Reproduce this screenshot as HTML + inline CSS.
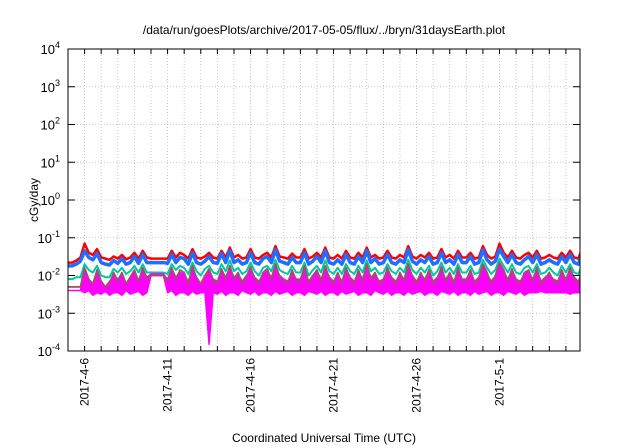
<!DOCTYPE html>
<html><head><meta charset="utf-8"><style>
body{margin:0;background:#fff}
svg{display:block;font-family:"Liberation Sans",sans-serif}
</style></head><body>
<svg id="c" width="640" height="448" xmlns="http://www.w3.org/2000/svg"></svg>
<script>
// values in units of 1e-3 cGy/day, sampled every quarter day from 2017-4-5
const dayLabels = ["2017-4-6","2017-4-11","2017-4-16","2017-4-21","2017-4-26","2017-5-1"];
const labelDays = [1,6,11,16,21,26];
const yTickExps = [-4,-3,-2,-1,0,1,2,3,4];
const redVals = [22,22,25,30, 70,40,35,50, 30,28,26,32, 28,35,27,30, 40,28,45,30, 28,28,28,28, 28,45,30,40, 35,28,50,30, 28,32,40,30, 28,45,30,55, 30,35,28,30, 50,30,28,35, 40,30,60,32, 30,28,38,30, 30,50,28,32, 40,30,55,30, 28,35,28,45, 30,28,40,30, 55,30,35,28, 30,45,30,28, 35,30,60,32, 28,35,30,40, 28,30,50,30, 35,28,45,30, 30,40,28,30, 60,35,28,32, 70,40,30,45, 30,28,35,40, 30,45,28,30, 35,30,28,40, 30,45,30,28, 55,30,28,35];
const blueVals = [18,18,20,24, 45,30,26,38, 22,20,19,25, 21,28,20,22, 32,21,36,22, 22,22,22,22, 21,36,22,30, 28,20,40,22, 20,24,32,22, 21,38,22,45, 22,26,20,22, 40,22,20,28, 32,22,48,24, 22,20,30,22, 22,40,20,24, 32,22,45,22, 20,26,20,36, 22,20,32,22, 45,22,28,20, 22,36,22,20, 26,22,48,24, 20,26,22,32, 20,22,40,22, 26,20,36,22, 22,32,20,22, 48,26,20,24, 50,32,22,36, 22,20,26,32, 22,36,20,22, 26,22,20,32, 22,36,22,20, 40,24,22,26];
const tealVals = [8,8,9,9, 20,14,12,18, 10,9,9,15, 12,16,11,13, 18,12,20,12, 12,12,12,12, 11,20,14,18, 16,11,22,13, 10,15,18,12, 11,20,13,25, 13,16,11,13, 22,13,10,16, 18,13,26,14, 12,11,18,12, 12,22,10,14, 18,12,25,13, 11,16,11,20, 13,11,18,12, 25,13,16,11, 12,20,13,11, 16,12,26,14, 11,16,12,18, 10,13,22,12, 16,11,20,12, 12,18,11,12, 26,16,11,14, 28,18,12,20, 12,11,16,18, 12,20,11,12, 16,12,10,18, 12,20,12,11, 20,13,11,14];
const brownVals = [5,5,5,5, 16,8,6,14, 7,5,6,12, 7,12,6,9, 14,7,16,8, 10,10,10,10, 7,16,8,14, 12,6,18,8, 6,10,15,7, 6,15,8,18, 8,12,6,9, 17,8,6,12, 15,8,20,9, 7,6,14,7, 7,18,6,10, 14,7,18,8, 6,12,6,16, 8,6,14,7, 20,8,12,6, 7,16,8,6, 12,7,20,9, 6,12,7,14, 6,8,17,7, 12,6,16,7, 7,14,6,8, 20,12,6,10, 22,14,7,15, 7,6,12,14, 7,16,6,8, 12,7,6,14, 7,16,8,6, 15,8,6,10];
const magLow = [4,4,4,4, 3.5,4,3,3.5, 3.2,3.8,3,3.5, 3.5,3,4,3.2, 3.5,3.8,3,3.5, 10,10,10,10, 3.5,4,3,3.5, 3.5,3,3.8,3.2, 3.5,3.5,0.15,3.5, 3.2,3.8,3,3.5, 3.5,3,4,3.5, 3.2,3.8,3,3.5, 3.5,3,3.8,3.2, 3.5,3.8,3,3.5, 3.5,3,3.8,3.5, 3.2,3.8,3,3.5, 3.5,3,3.8,3.2, 3.5,3.8,3,3.5, 3.5,3,4,3.5, 3.2,3.8,3,3.5, 3.5,3,3.8,3.2, 3.5,3.8,3,3.5, 3.5,3,3.8,3.5, 3.2,3.8,3,3.5, 3.5,3,3.8,3.2, 3.5,3.8,3,3.5, 3.5,3,3.8,3.5, 3.2,3.8,3,3.5, 3.5,3.5,3.8,3.5, 3.5,3.5,3.5,3.5, 3.5,3.2,3.5,3.5, 3.5,3.5,3.5,3.5];
const magHigh = [4,4,4,4, 15,8,6,12, 7,5,7,10, 8,11,6,9, 13,7,15,9, 11,11,11,11, 8,15,9,12, 11,7,16,9, 6,10,14,8, 7,14,9,16, 9,11,7,10, 15,9,7,11, 13,9,18,10, 8,7,13,8, 8,16,7,10, 13,8,16,9, 7,11,7,15, 9,7,13,8, 18,9,11,7, 8,15,9,7, 11,8,18,10, 7,11,8,13, 7,9,15,8, 11,7,14,8, 8,13,7,9, 18,11,7,10, 20,13,8,14, 8,7,11,13, 8,15,7,9, 11,8,7,13, 8,15,9,7, 14,9,8,10];
const yellowVals = [5,5,5,5, 4.5,5,4.5,4.5, 4.5,4.5,5,4.5, 4.5,4.5,4.5,4.5, 4.5,4.5,5,4.5, 10,10,10,10, 4.5,4.5,4.5,4.5, 4.5,4.5,5,4.5, 4.5,4.5,4.5,4.5, 4.5,4.5,4.5,5, 4.5,4.5,4.5,4.5, 4.5,4.5,4.5,4.5, 4.5,4.5,5,4.5, 4.5,4.5,4.5,4.5, 4.5,4.5,4.5,4.5, 4.5,4.5,5,4.5, 4.5,4.5,4.5,4.5, 5,4.5,4.5,4.5, 4.5,4.5,4.5,4.5, 4.5,4.5,5,4.5, 4.5,4.5,4.5,4.5, 4.5,4.5,4.5,4.5, 4.5,4.5,4.5,4.5, 4.5,4.5,4.5,4.5, 5,4.5,4.5,4.5, 5,4.5,4.5,4.5, 4.5,4.5,4.5,4.5, 4.5,4.5,4.5,4.5, 4.5,4.5,4.5,4.5, 4.5,4.5,4.5,4.5, 4.5,4.5,4.5,4.5];

const NS="http://www.w3.org/2000/svg", svg=document.getElementById('c');
const L=68,R=580,T=49,B=351,DAYS=30.85,STEP=0.25;
const xs=d=>L+d/DAYS*(R-L);
const ys=v=>B-(Math.log10(v*1e-3)+4)/8*(B-T);
const yExp=e=>B-(e+4)/8*(B-T);
function mk(tag,attrs,parent){const e=document.createElementNS(NS,tag);for(const k in attrs)e.setAttribute(k,attrs[k]);(parent||svg).appendChild(e);return e;}
const clip=mk('clipPath',{id:'pc'});mk('rect',{x:L,y:T,width:R-L,height:B-T},clip);

const grid=mk('g',{});


for(let d=1;d<31;d++){mk('line',{x1:xs(d),x2:xs(d),y1:T,y2:B,stroke:'#bbb','stroke-width':0.8,'stroke-dasharray':'1,2'},grid);}
yTickExps.forEach(e=>{if(e>-4&&e<4)mk('line',{x1:L,x2:R,y1:yExp(e),y2:yExp(e),stroke:'#bbb','stroke-width':0.8,'stroke-dasharray':'1,2'},grid);});

const plot=mk('g',{'clip-path':'url(#pc)'});
function line(vals,color,w,name){
  const p=mk('polyline',{points:vals.map((v,i)=>xs(i*STEP)+','+ys(v)).join(' '),fill:'none',stroke:color,'stroke-width':w,'stroke-linejoin':'round'},plot);
  
  
}
line(redVals,'#ff0000',2.5,'series-red');
line(blueVals,'#1e6fff',3.5,'series-blue');
line(tealVals,'#00c8a0',2,'series-teal');
line(yellowVals,'#ffee00',2,'series-yellow');
const band=mk('polygon',{points:magHigh.map((v,i)=>xs(i*STEP)+','+ys(v)).concat(magLow.map((v,i)=>xs(i*STEP)+','+ys(v)).reverse()).join(' '),fill:'#ff00ff',stroke:'#ff00ff','stroke-width':1.5,'stroke-linejoin':'round'},plot);


line(brownVals,'#a0506a',1.8,'series-brown');

const fr=mk('rect',{x:L,y:T,width:R-L,height:B-T,fill:'none',stroke:'#000','stroke-width':1});


for(let d=1;d<31;d++){mk('line',{x1:xs(d),x2:xs(d),y1:B,y2:B-5,stroke:'#000'});mk('line',{x1:xs(d),x2:xs(d),y1:T,y2:T+5,stroke:'#000'});}
yTickExps.forEach(e=>{
  const y=yExp(e);
  mk('line',{x1:L,x2:L+7,y1:y,y2:y,stroke:'#000'});mk('line',{x1:R,x2:R-7,y1:y,y2:y,stroke:'#000'});
  const t=mk('text',{x:L-8,y:y+5,'text-anchor':'end','font-size':13});
  
  
  t.textContent='10';
  const s=mk('tspan',{dy:-6,'font-size':9},t);s.textContent=String(e);
});
dayLabels.forEach((lab,i)=>{
  const x=xs(labelDays[i]);
  const t=mk('text',{x:0,y:0,'text-anchor':'end','font-size':12,transform:`translate(${x+4},358) rotate(-90)`});
  
  
  t.textContent=lab;
});
const title=mk('text',{x:324,y:34,'text-anchor':'middle','font-size':12});


title.textContent='/data/run/goesPlots/archive/2017-05-05/flux/../bryn/31daysEarth.plot';
const xt=mk('text',{x:324,y:442,'text-anchor':'middle','font-size':12});


xt.textContent='Coordinated Universal Time (UTC)';
const yt=mk('text',{x:0,y:0,'text-anchor':'middle','font-size':12,transform:'translate(38,200) rotate(-90)'});


yt.textContent='cGy/day';
</script>
</body></html>
